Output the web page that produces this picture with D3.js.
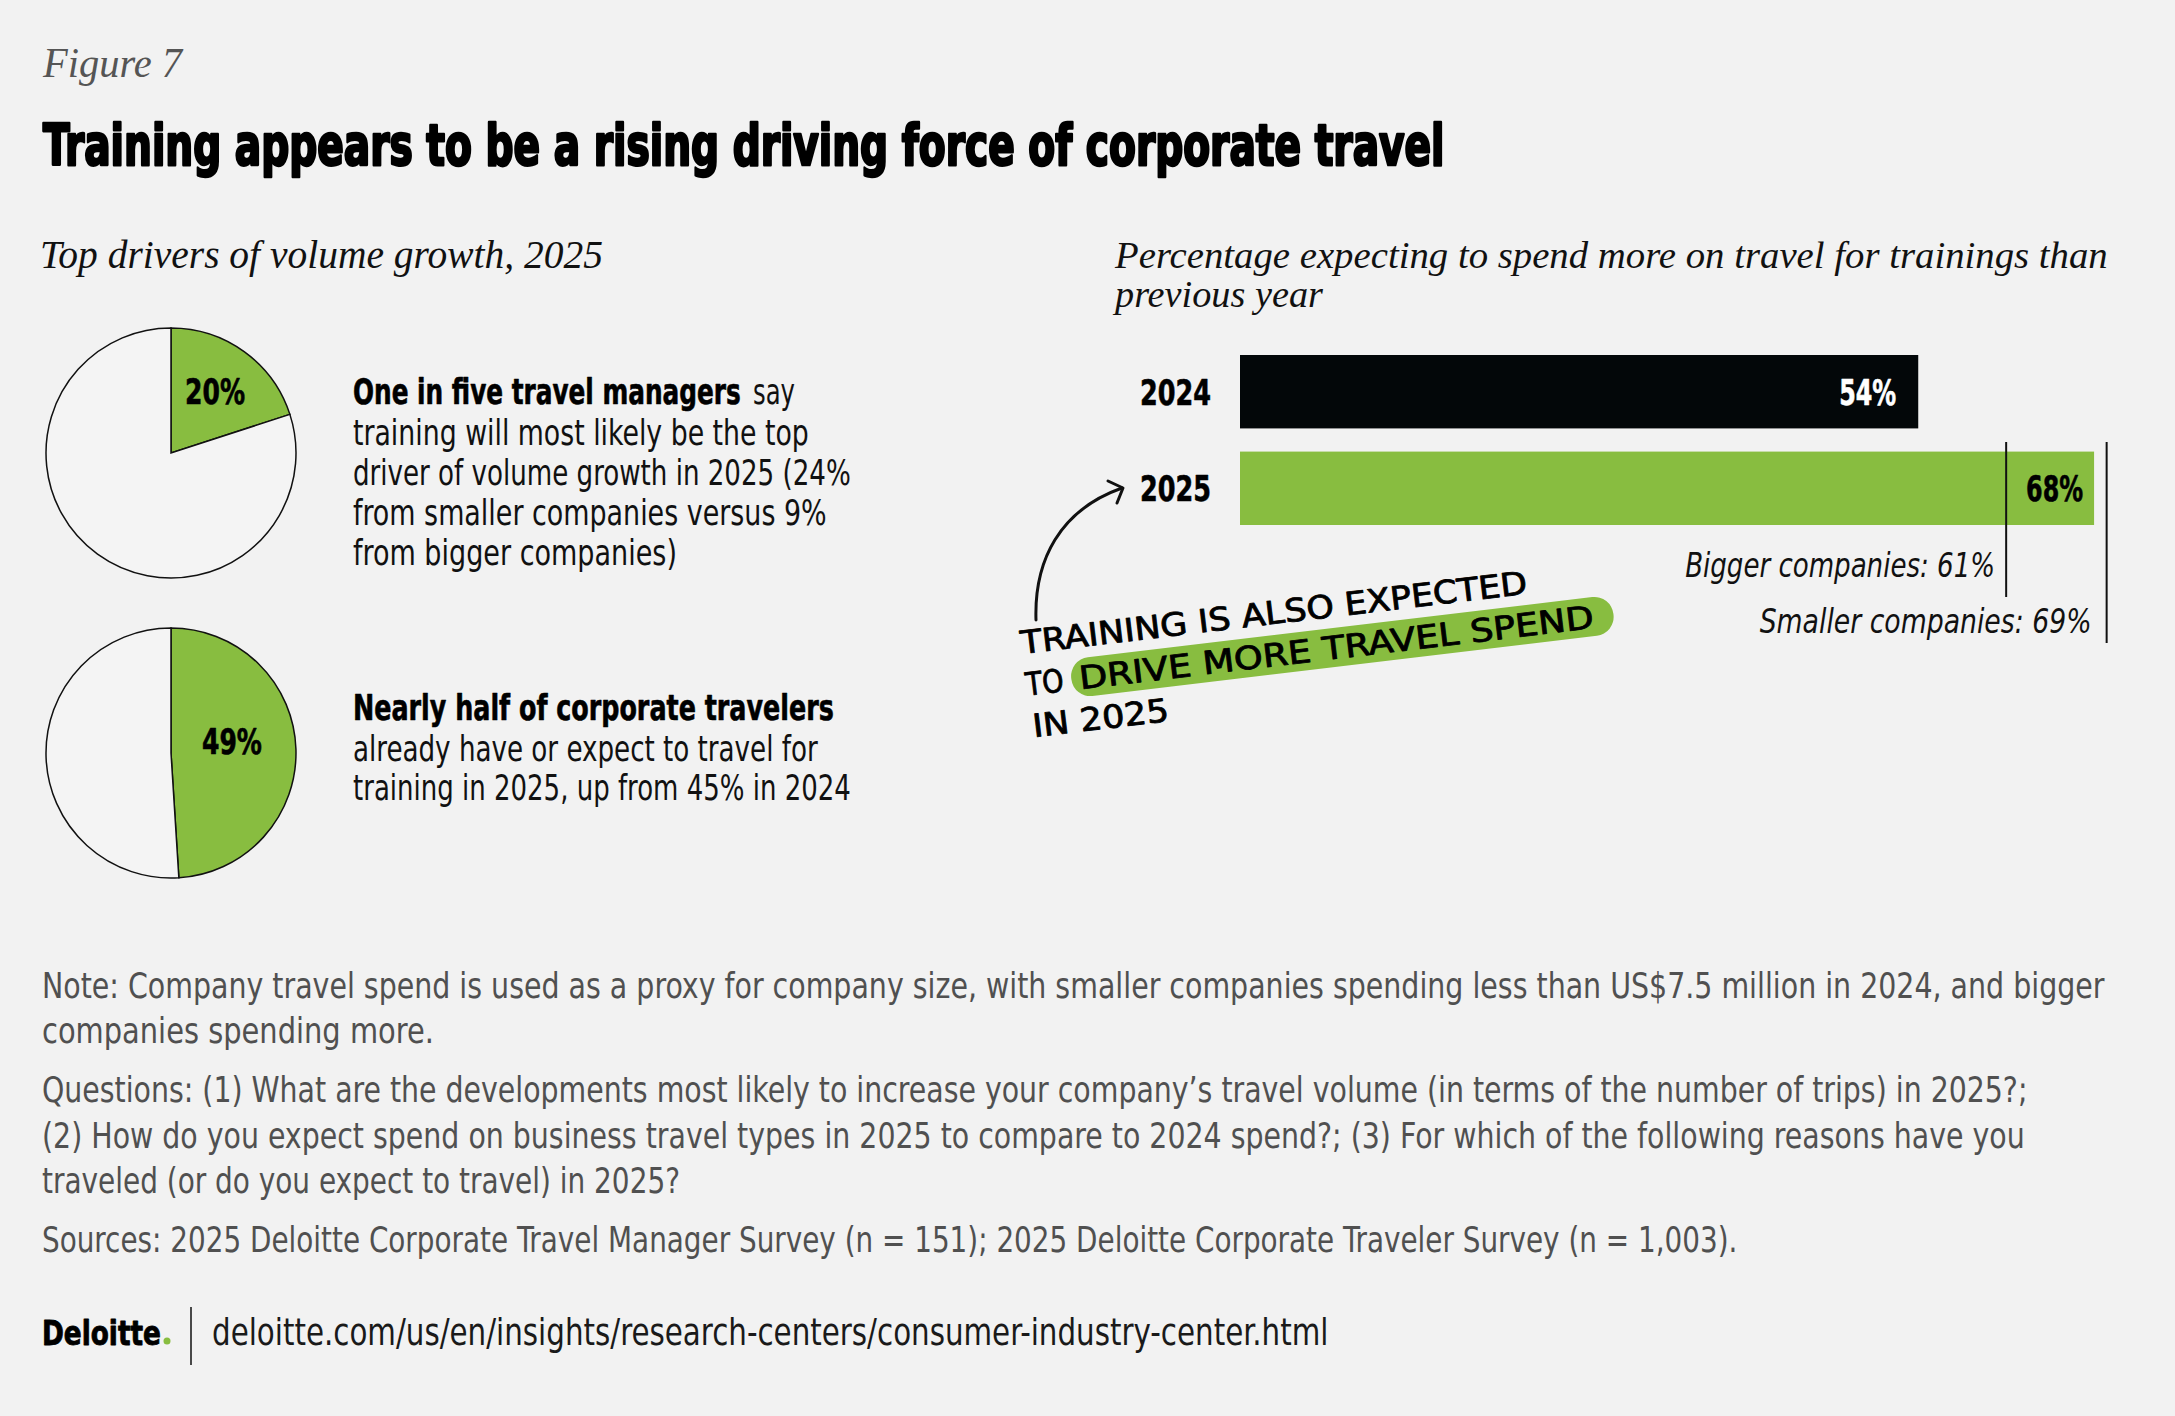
<!DOCTYPE html>
<html>
<head>
<meta charset="utf-8">
<script src="https://d3js.org/d3.v7.min.js"></script>
<style>
  html, body { margin: 0; padding: 0; background: #f2f2f2; }
  svg { display: block; }
</style>
</head>
<body>
<div id="chart"></div>
<script>
// Figure 7 - training as a driver of corporate travel

// pies (left)
const pieValues = [20, 49];
const pieLabels = ["20%", "49%"];

// bars (right)
const barYears = ["2024", "2025"];
const barValues = [54, 68];
const barLabels = ["54%", "68%"];

// company size markers on the 2025 bar
const markerValues = [61, 69];
const markerLabels = ["Bigger companies: 61%", "Smaller companies: 69%"];

const W = 2175, H = 1416;
const GREEN = "#88bd40";
const sans = "'Liberation Sans Narrow', 'DejaVu Sans Condensed', 'Roboto', sans-serif";
const serif = "'Liberation Serif', 'DejaVu Serif', serif";
const hand = "'DejaVu Sans Condensed', 'Liberation Sans Narrow', sans-serif";

const svg = d3.select('#chart').append('svg')
    .attr('width', W).attr('height', H)
    .attr('viewBox', `0 0 ${W} ${H}`);

svg.append('rect').attr('width', W).attr('height', H).attr('fill', '#f2f2f2');

// helper: text squeezed horizontally to a measured width (scale transform, so bbox stays true)
function txt(g, x, y, s, len, o) {
    o = o || {};
    const t = g.append('text')
        .attr('x', 0).attr('y', 0)
        .attr('font-family', o.family || sans)
        .attr('font-size', o.size || 35)
        .attr('font-weight', o.weight || 'normal')
        .attr('font-style', o.style || 'normal')
        .attr('fill', o.fill || '#111')
        .text(s);
    if (o.stroke) t.attr('stroke', o.fill || '#111').attr('stroke-width', o.stroke)
        .attr('stroke-linejoin', 'round');
    const w = t.node().getComputedTextLength() || 1;
    const sx = len ? len / w : 1;
    const drawn = w * sx;
    let x0 = x;
    if (o.anchor === 'end') x0 = x - drawn;
    else if (o.anchor === 'middle') x0 = x - drawn / 2;
    t.attr('transform', `translate(${x0},${y}) scale(${sx},1)`);
    return t;
}

// header
txt(svg, 43, 77, "Figure 7", 139, {family: serif, style: 'italic', size: 42, fill: '#555'});
txt(svg, 43, 165, "Training appears to be a rising driving force of corporate travel", 1402,
    {size: 57, weight: 'bold', fill: '#000', stroke: 2.6});

txt(svg, 40, 268, "Top drivers of volume growth, 2025", 563, {family: serif, style: 'italic', size: 39, fill: '#111'});
txt(svg, 1115, 268, "Percentage expecting to spend more on travel for trainings than", 993,
    {family: serif, style: 'italic', size: 38, fill: '#111'});
txt(svg, 1115, 307, "previous year", 208, {family: serif, style: 'italic', size: 38, fill: '#111'});

// ---- pies ----
const pieCenters = [[171, 453], [171, 753]];
const R = 125;
const pie = d3.pie().sort(null).value(d => d);
const arc = d3.arc().innerRadius(0).outerRadius(R);
const labelArc = d3.arc().innerRadius(R * 0.6).outerRadius(R * 0.6);

pieValues.forEach((v, i) => {
    const g = svg.append('g').attr('transform', `translate(${pieCenters[i][0]},${pieCenters[i][1]})`);
    const slices = pie([v, 100 - v]);
    g.selectAll('path')
        .data(slices)
        .join('path')
        .attr('d', arc)
        .attr('fill', (d, j) => j === 0 ? GREEN : '#f4f4f4')
        .attr('stroke', '#111')
        .attr('stroke-width', 1.5);
    const c = labelArc.centroid(slices[0]);
    txt(g, c[0] + (i === 0 ? 0 : -14), c[1] + (i === 0 ? 12 : 3), pieLabels[i], 60,
        {size: 35, weight: 'bold', anchor: 'middle', fill: '#000', stroke: 0.6});
});

// pie notes
const tg = svg.append('g');
txt(tg, 353, 404, "One in five travel managers", 388, {size: 35, weight: 'bold', fill: '#000', stroke: 0.6});
txt(tg, 753, 404, "say", 42, {size: 35});
txt(tg, 353, 445, "training will most likely be the top", 456, {size: 35});
txt(tg, 353, 485, "driver of volume growth in 2025 (24%", 498, {size: 35});
txt(tg, 353, 525, "from smaller companies versus 9%", 474, {size: 35});
txt(tg, 353, 565, "from bigger companies)", 324, {size: 35});

txt(tg, 353, 720, "Nearly half of corporate travelers", 481, {size: 35, weight: 'bold', fill: '#000', stroke: 0.6});
txt(tg, 353, 761, "already have or expect to travel for", 465, {size: 35});
txt(tg, 353, 800, "training in 2025, up from 45% in 2024", 498, {size: 35});

// ---- bars ----
const x = d3.scaleLinear().domain([0, 100]).range([1240, 2496]);
const y = d3.scaleBand().domain(barYears).range([355, 525]).paddingInner(0.24).paddingOuter(0);

svg.selectAll('rect.bar')
    .data(barValues)
    .join('rect')
    .attr('class', 'bar')
    .attr('x', x(0))
    .attr('y', (d, i) => y(barYears[i]))
    .attr('width', d => x(d) - x(0))
    .attr('height', y.bandwidth())
    .attr('fill', (d, i) => i === 0 ? '#030709' : GREEN);

barYears.forEach((yr, i) => {
    const cy = y(yr) + y.bandwidth() / 2;
    txt(svg, 1211, cy + 13, yr, 71, {size: 36, weight: 'bold', anchor: 'end', fill: '#000', stroke: 0.6});
    txt(svg, x(barValues[i]) - (i === 0 ? 22 : 11), cy + 13, barLabels[i], 57,
        {size: 36, weight: 'bold', anchor: 'end', fill: i === 0 ? '#fff' : '#000', stroke: 0.6});
});

// markers
const markerBottom = [597, 643];
markerValues.forEach((v, i) => {
    svg.append('line')
        .attr('x1', x(v)).attr('x2', x(v))
        .attr('y1', 442).attr('y2', markerBottom[i])
        .attr('stroke', '#111').attr('stroke-width', 2);
});
txt(svg, x(markerValues[0]) - 11, 577, markerLabels[0], 310, {size: 34, style: 'italic', anchor: 'end'});
txt(svg, x(markerValues[1]) - 15, 633, markerLabels[1], 332, {size: 34, style: 'italic', anchor: 'end'});

// ---- handwritten annotation ----
svg.append('path')
    .attr('d', 'M1036,620 C1034,560 1060,510 1122,488')
    .attr('fill', 'none').attr('stroke', '#111').attr('stroke-width', 3).attr('stroke-linecap', 'round');
svg.append('path')
    .attr('d', 'M1108,481 L1123,488 L1117,503')
    .attr('fill', 'none').attr('stroke', '#111').attr('stroke-width', 3)
    .attr('stroke-linecap', 'round').attr('stroke-linejoin', 'round');

const ann = svg.append('g').attr('transform', 'translate(1022,654) rotate(-6.8)');
ann.append('rect')
    .attr('x', 46).attr('y', 11).attr('width', 546).attr('height', 39).attr('rx', 19)
    .attr('fill', GREEN);
txt(ann, 0, 0, "TRAINING IS ALSO EXPECTED", 510, {family: hand, size: 32, fill: '#000', stroke: 0.8});
txt(ann, 0, 42, "TO", 38, {family: hand, size: 32, fill: '#000', stroke: 0.8});
txt(ann, 54, 42, "DRIVE MORE TRAVEL SPEND", 518, {family: hand, size: 32, fill: '#000', stroke: 0.8});
txt(ann, 2, 84, "IN 2025", 137, {family: hand, size: 32, fill: '#000', stroke: 0.8});

// ---- footer notes ----
const noteColor = '#505050';
const fg = svg.append('g');
txt(fg, 42, 998, "Note: Company travel spend is used as a proxy for company size, with smaller companies spending less than US$7.5 million in 2024, and bigger", 2063, {size: 36, fill: noteColor});
txt(fg, 42, 1043, "companies spending more.", 392, {size: 36, fill: noteColor});
txt(fg, 42, 1102, "Questions: (1) What are the developments most likely to increase your company\u2019s travel volume (in terms of the number of trips) in 2025?;", 1986, {size: 36, fill: noteColor});
txt(fg, 42, 1148, "(2) How do you expect spend on business travel types in 2025 to compare to 2024 spend?; (3) For which of the following reasons have you", 1983, {size: 36, fill: noteColor});
txt(fg, 42, 1193, "traveled (or do you expect to travel) in 2025?", 638, {size: 36, fill: noteColor});
txt(fg, 42, 1252, "Sources: 2025 Deloitte Corporate Travel Manager Survey (n = 151); 2025 Deloitte Corporate Traveler Survey (n = 1,003).", 1696, {size: 36, fill: noteColor});

// logo + url
txt(fg, 42, 1345, "Deloitte", 119, {size: 34, weight: 'bold', fill: '#000', stroke: 0.8});
fg.append('circle').attr('cx', 167).attr('cy', 1341).attr('r', 3.5).attr('fill', GREEN);
fg.append('line').attr('x1', 191).attr('x2', 191).attr('y1', 1307).attr('y2', 1365)
    .attr('stroke', '#111').attr('stroke-width', 1.5);
txt(fg, 212, 1345, "deloitte.com/us/en/insights/research-centers/consumer-industry-center.html", 1117, {size: 37, fill: '#1a1a1a'});
</script>
</body>
</html>
